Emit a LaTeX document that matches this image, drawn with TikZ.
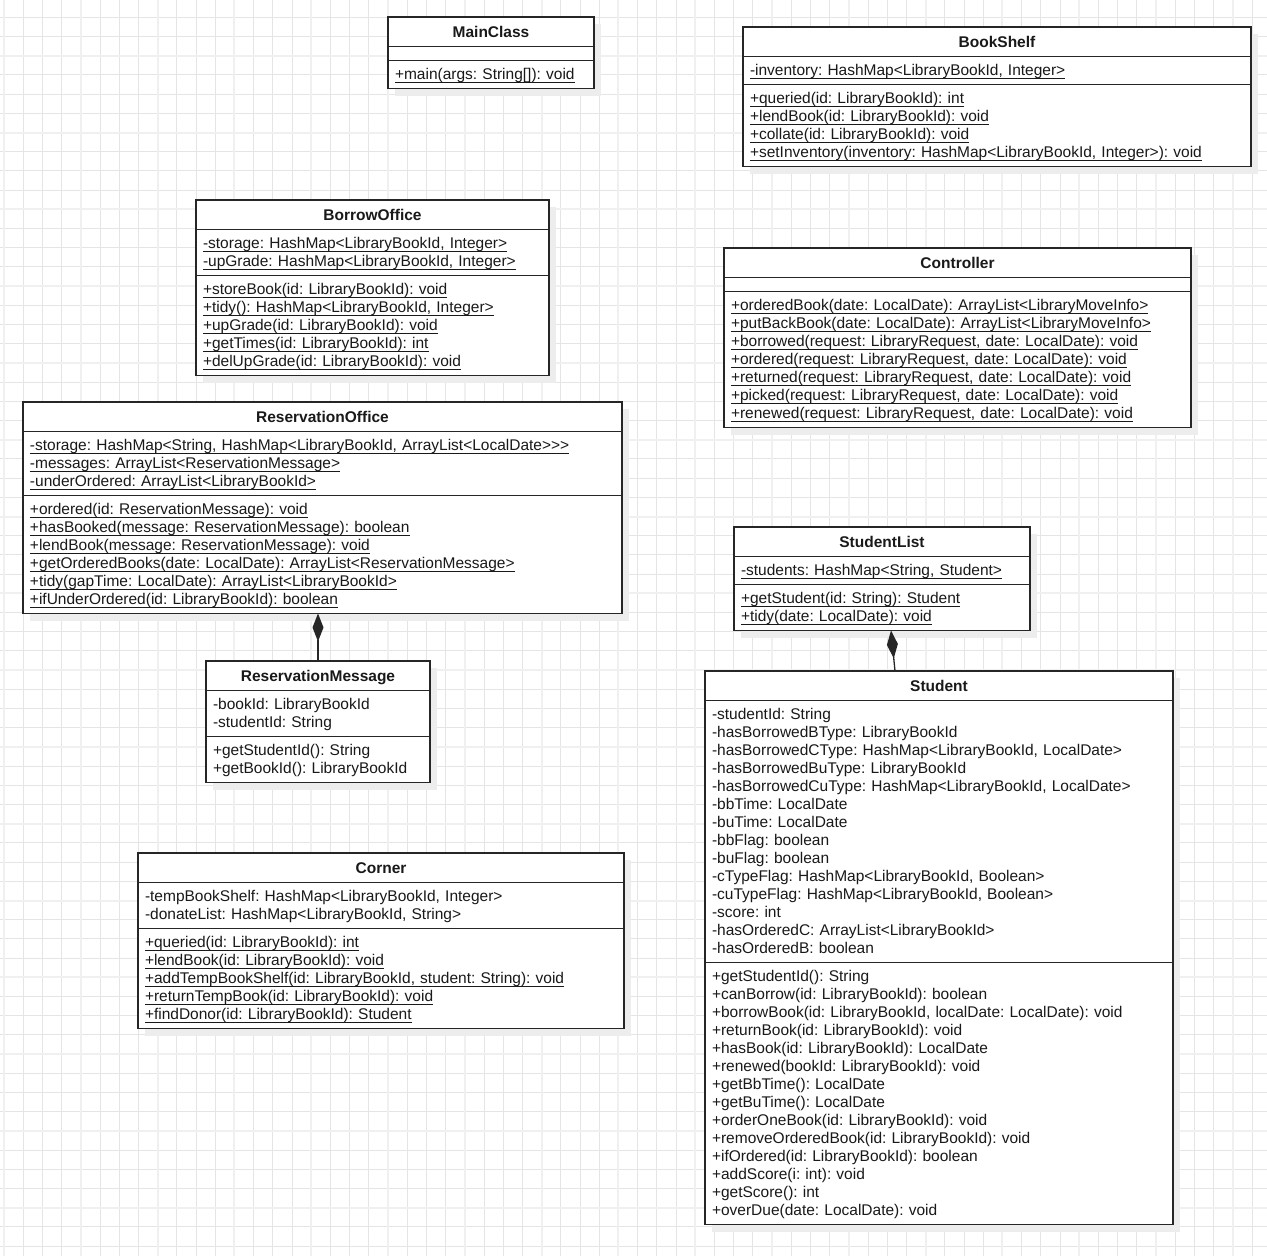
\documentclass[tikz,border=0pt]{standalone}
\usepackage{fontspec}
\setmainfont{Liberation Sans}
\usetikzlibrary{positioning,shadows,arrows.meta}
\frenchspacing

\tikzset{
	umlbox/.style={draw=black!85,line width=1.3pt,fill=white,outer sep=0pt,text=black!90,
		drop shadow={shadow xshift=7pt,shadow yshift=-7pt,fill=black!7,opacity=1}},
	headbox/.style={umlbox,anchor=north west,inner ysep=0pt,text height=20.5pt,text depth=9pt,
		font=\fontsize{15.5}{18}\selectfont\bfseries},
	partbox/.style={umlbox,align=left,inner xsep=7pt,inner ysep=3pt,text height=15.5pt,
		font=\fontsize{15.5}{18}\selectfont},
	gapbox/.style={umlbox,inner sep=0pt,minimum height=14pt},
	composition/.style={draw=black!85,line width=1.3pt,-{Diamond[length=28pt,width=11pt]}},
	gridline/.style={draw=black!10,line width=1pt},
	gridmajor/.style={draw=black!6,line width=2pt}
}

\newsavebox{\umlline}
\newcommand{\umlstatic}[1]{\leavevmode\sbox{\umlline}{#1}\rlap{\usebox{\umlline}}\rule[-3.6pt]{\wd\umlline}{1.1pt}}

\newcommand{\classhead}[4]
{
	\node[headbox,minimum width=#3] at (#2) (#1) {#4}
}
\newcommand{\classpart}[5]
{
	\pgfmathsetlengthmacro{\partw}{#3-14pt}
	\pgfmathsetlengthmacro{\partd}{18pt*(#4-1)+6.5pt}
	\node[partbox,minimum width=#3,text width=\partw,text depth=\partd,below=0pt of #1] (#2) {#5}
}
\newcommand{\classgap}[3]
{
	\node[gapbox,minimum width=#3,below=0pt of #1] (#2) {}
}

\begin{document}
\begin{tikzpicture}[x=1pt,y=-1pt]
	\useasboundingbox (0,0) rectangle (1267,1256);
	\fill[white] (0,0) rectangle (1267,1256);
	
	%%% Grid
	\foreach \i in {0,...,65}
		\draw[gridline] (4+19.2*\i,0) -- (4+19.2*\i,1256);
	\foreach \j in {1,...,65}
		\draw[gridline] (0,-1.9+19.2*\j) -- (1267,-1.9+19.2*\j);
	\foreach \i in {0,4,...,64}
		\draw[gridmajor] (4+19.2*\i,0) -- (4+19.2*\i,1256);
	\foreach \j in {3,7,...,63}
		\draw[gridmajor] (0,-1.9+19.2*\j) -- (1267,-1.9+19.2*\j);
	
	%%% MainClass
	\classhead{main}{388,17}{206pt}{MainClass};
	\classgap{main}{main-a}{206pt};
	\classpart{main-a}{main-m}{206pt}{1}{\umlstatic{+main(args: String[]): void}};
	
	%%% BookShelf
	\classhead{shelf}{743,27}{508pt}{BookShelf};
	\classpart{shelf}{shelf-a}{508pt}{1}{\umlstatic{-inventory: HashMap<LibraryBookId, Integer>}};
	\classpart{shelf-a}{shelf-m}{508pt}{4}{\umlstatic{+queried(id: LibraryBookId): int}\\
		\umlstatic{+lendBook(id: LibraryBookId): void}\\
		\umlstatic{+collate(id: LibraryBookId): void}\\
		\umlstatic{+setInventory(inventory: HashMap<LibraryBookId, Integer>): void}};
	
	%%% BorrowOffice
	\classhead{borrow}{196,200}{353pt}{BorrowOffice};
	\classpart{borrow}{borrow-a}{353pt}{2}{\umlstatic{-storage: HashMap<LibraryBookId, Integer>}\\
		\umlstatic{-upGrade: HashMap<LibraryBookId, Integer>}};
	\classpart{borrow-a}{borrow-m}{353pt}{5}{\umlstatic{+storeBook(id: LibraryBookId): void}\\
		\umlstatic{+tidy(): HashMap<LibraryBookId, Integer>}\\
		\umlstatic{+upGrade(id: LibraryBookId): void}\\
		\umlstatic{+getTimes(id: LibraryBookId): int}\\
		\umlstatic{+delUpGrade(id: LibraryBookId): void}};
	
	%%% Controller
	\classhead{ctrl}{724,248}{467pt}{Controller};
	\classgap{ctrl}{ctrl-a}{467pt};
	\classpart{ctrl-a}{ctrl-m}{467pt}{7}{\umlstatic{+orderedBook(date: LocalDate): ArrayList<LibraryMoveInfo>}\\
		\umlstatic{+putBackBook(date: LocalDate): ArrayList<LibraryMoveInfo>}\\
		\umlstatic{+borrowed(request: LibraryRequest, date: LocalDate): void}\\
		\umlstatic{+ordered(request: LibraryRequest, date: LocalDate): void}\\
		\umlstatic{+returned(request: LibraryRequest, date: LocalDate): void}\\
		\umlstatic{+picked(request: LibraryRequest, date: LocalDate): void}\\
		\umlstatic{+renewed(request: LibraryRequest, date: LocalDate): void}};
	
	%%% ReservationOffice
	\classhead{resoff}{23,402}{599pt}{ReservationOffice};
	\classpart{resoff}{resoff-a}{599pt}{3}{\umlstatic{-storage: HashMap<String, HashMap<LibraryBookId, ArrayList<LocalDate>{}>{}>}\\
		\umlstatic{-messages: ArrayList<ReservationMessage>}\\
		\umlstatic{-underOrdered: ArrayList<LibraryBookId>}};
	\classpart{resoff-a}{resoff-m}{599pt}{6}{\umlstatic{+ordered(id: ReservationMessage): void}\\
		\umlstatic{+hasBooked(message: ReservationMessage): boolean}\\
		\umlstatic{+lendBook(message: ReservationMessage): void}\\
		\umlstatic{+getOrderedBooks(date: LocalDate): ArrayList<ReservationMessage>}\\
		\umlstatic{+tidy(gapTime: LocalDate): ArrayList<LibraryBookId>}\\
		\umlstatic{+ifUnderOrdered(id: LibraryBookId): boolean}};
	
	%%% ReservationMessage
	\classhead{resmsg}{206,661}{224pt}{ReservationMessage};
	\classpart{resmsg}{resmsg-a}{224pt}{2}{-bookId: LibraryBookId\\
		-studentId: String};
	\classpart{resmsg-a}{resmsg-m}{224pt}{2}{+getStudentId(): String\\
		+getBookId(): LibraryBookId};
	
	%%% StudentList
	\classhead{stulist}{734,527}{296pt}{StudentList};
	\classpart{stulist}{stulist-a}{296pt}{1}{\umlstatic{-students: HashMap<String, Student>}};
	\classpart{stulist-a}{stulist-m}{296pt}{2}{\umlstatic{+getStudent(id: String): Student}\\
		\umlstatic{+tidy(date: LocalDate): void}};
	
	%%% Student
	\classhead{stu}{705,671}{468pt}{Student};
	\classpart{stu}{stu-a}{468pt}{14}{-studentId: String\\
		-hasBorrowedBType: LibraryBookId\\
		-hasBorrowedCType: HashMap<LibraryBookId, LocalDate>\\
		-hasBorrowedBuType: LibraryBookId\\
		-hasBorrowedCuType: HashMap<LibraryBookId, LocalDate>\\
		-bbTime: LocalDate\\
		-buTime: LocalDate\\
		-bbFlag: boolean\\
		-buFlag: boolean\\
		-cTypeFlag: HashMap<LibraryBookId, Boolean>\\
		-cuTypeFlag: HashMap<LibraryBookId, Boolean>\\
		-score: int\\
		-hasOrderedC: ArrayList<LibraryBookId>\\
		-hasOrderedB: boolean};
	\classpart{stu-a}{stu-m}{468pt}{14}{+getStudentId(): String\\
		+canBorrow(id: LibraryBookId): boolean\\
		+borrowBook(id: LibraryBookId, localDate: LocalDate): void\\
		+returnBook(id: LibraryBookId): void\\
		+hasBook(id: LibraryBookId): LocalDate\\
		+renewed(bookId: LibraryBookId): void\\
		+getBbTime(): LocalDate\\
		+getBuTime(): LocalDate\\
		+orderOneBook(id: LibraryBookId): void\\
		+removeOrderedBook(id: LibraryBookId): void\\
		+ifOrdered(id: LibraryBookId): boolean\\
		+addScore(i: int): void\\
		+getScore(): int\\
		+overDue(date: LocalDate): void};
	
	%%% Corner
	\classhead{corner}{138,853}{486pt}{Corner};
	\classpart{corner}{corner-a}{486pt}{2}{-tempBookShelf: HashMap<LibraryBookId, Integer>\\
		-donateList: HashMap<LibraryBookId, String>};
	\classpart{corner-a}{corner-m}{486pt}{5}{\umlstatic{+queried(id: LibraryBookId): int}\\
		\umlstatic{+lendBook(id: LibraryBookId): void}\\
		\umlstatic{+addTempBookShelf(id: LibraryBookId, student: String): void}\\
		\umlstatic{+returnTempBook(id: LibraryBookId): void}\\
		\umlstatic{+findDonor(id: LibraryBookId): Student}};
	
	%%%%%%%%% COMPOSITIONS
	\draw[composition] (resmsg.north) -- (resmsg.north |- resoff-m.south);
	\draw[composition] ([xshift=-44pt]stu.north) -- ([xshift=9pt]stulist-m.south);
\end{tikzpicture}
\end{document}
